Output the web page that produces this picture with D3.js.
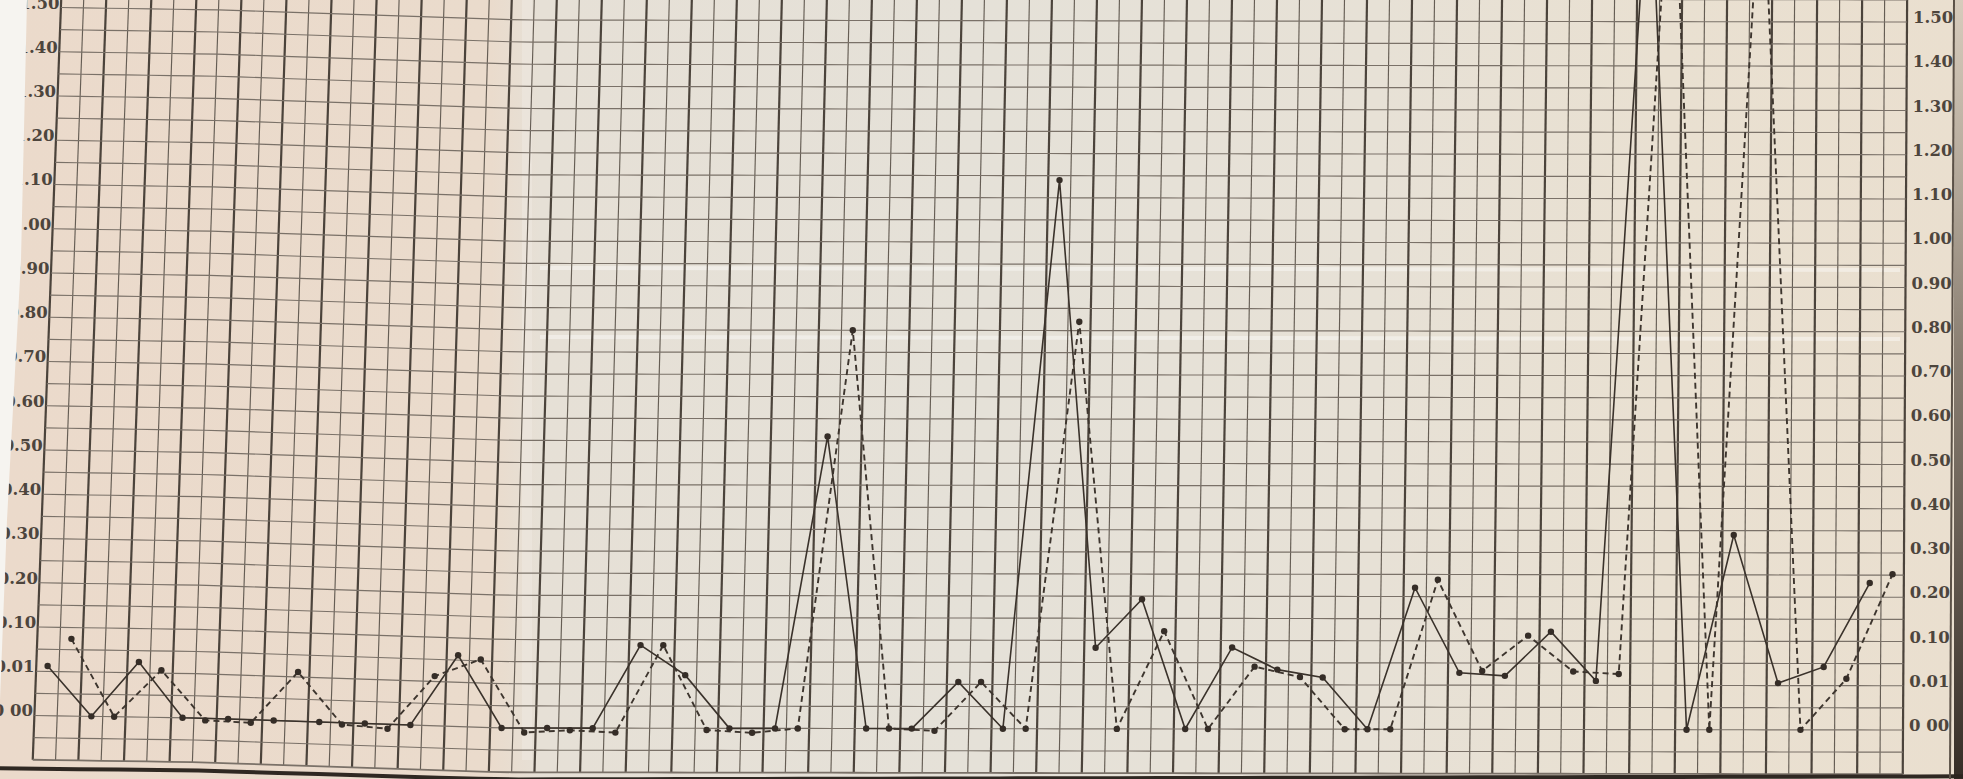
<!DOCTYPE html>
<html>
<head>
<meta charset="utf-8">
<script src="https://cdn.jsdelivr.net/npm/d3@7"></script>
<style>
  body { margin: 0; background: #e6ddcf; overflow: hidden; }
  svg { display: block; }
</style>
</head>
<body>
<div id="sheet"></div>
<script>
// one reading per day, 41 days, two series (solid and dashed line)
var days = d3.range(1, 42);

var solidValues = [0.021, 0, 0.032, 0, 0, 0, 0, 0, 0, 0.065,
                   0, 0, 0, 0.089, 0.028, 0, 0, 0.56, 0, 0,
                   0.015, 0, 1.14, 0.085, 0.193, 0, 0.086, 0.041, 0.025, 0,
                   0.22, 0.035, 0.029, 0.121, 0.019, 1.89, 0, 0.34, 0.015, 0.048,
                   0.232];

var dashedValues = [0.077, 0, 0.016, -0.0005, -0.0007, 0.02, -0.0004, -0.001, 0.021, 0.058,
                    -0.001, -0.0005, -0.001, 0.089, -0.0004, -0.001, 0, 0.80, 0, -0.0005,
                    0.015, 0, 0.82, 0, 0.121, 0, 0.047, 0.026, 0, 0,
                    0.238, 0.039, 0.112, 0.038, 0.033, 1.95, 0, 1.88, 0, 0.024,
                    0.252];

// the sheet's scale is not linear: every printed label gets the same height
var tickValues = [0, 0.01, 0.10, 0.20, 0.30, 0.40, 0.50, 0.60, 0.70, 0.80,
                  0.90, 1.00, 1.10, 1.20, 1.30, 1.40, 1.50];
var tickLabels = ["0 00", "0.01", "0.10", "0.20", "0.30", "0.40", "0.50", "0.60", "0.70", "0.80",
                  "0.90", "1.00", "1.10", "1.20", "1.30", "1.40", "1.50"];

var w = 1963;
var h = 779;
var gridLeft = 34.4;
var gridRight = 1903;
var zeroY = 722;
var labelStep = 44.25;

var x = d3.scaleBand().domain(days).range([gridLeft, gridRight]).padding(0);
var bw = x.bandwidth();
// label index -> pixel
var row = d3.scaleLinear().domain([0, 1]).range([zeroY, zeroY - labelStep]);
// value -> pixel, piecewise through the printed labels
var y = d3.scaleLinear()
  .domain(tickValues)
  .range(tickValues.map(function(d, i) { return row(i); }));

// the scanned paper is a bit sheared: verticals lean, rows sag to the right
var drift = d3.scaleLinear().domain([0, 200, 500, 1900]).range([-7, -4, 6, 8]);
function lean(u) { return 0.038 - 0.000017 * u; }
function warp(u, v) {
  return [u + lean(u) * (zeroY - v), v + drift(u)];
}

var svg = d3.select("#sheet").append("svg")
  .attr("width", w)
  .attr("height", h);

// paper
var defs = svg.append("defs");
var paper = defs.append("linearGradient").attr("id", "paper")
  .attr("x1", "0").attr("x2", "1").attr("y1", "0").attr("y2", "0");
[[0, "#ebdacb"], [0.25, "#eadbcc"], [0.275, "#e6e0d6"], [0.5, "#e5e1d8"],
 [0.7, "#e7e1d6"], [0.85, "#e9e0d1"], [1, "#eadfcf"]].forEach(function(s) {
  paper.append("stop").attr("offset", s[0]).attr("stop-color", s[1]);
});
var edge = defs.append("linearGradient").attr("id", "edge")
  .attr("x1", "0").attr("x2", "0").attr("y1", "0").attr("y2", "1");
edge.append("stop").attr("offset", 0).attr("stop-color", "#6b5f52").attr("stop-opacity", 0.15);
edge.append("stop").attr("offset", 0.45).attr("stop-color", "#4a3f35").attr("stop-opacity", 0.6);
edge.append("stop").attr("offset", 1).attr("stop-color", "#2c241e").attr("stop-opacity", 0.95);

svg.append("rect").attr("width", w).attr("height", h).attr("fill", "url(#paper)");

// fold marks on the sheet
svg.append("g").selectAll("line").data([268, 337]).enter().append("line")
  .attr("x1", 540).attr("x2", 1900)
  .attr("y1", function(d) { return d; }).attr("y2", function(d) { return d + 2; })
  .attr("stroke", "#ffffff").attr("stroke-opacity", 0.4).attr("stroke-width", 4);
svg.append("rect").attr("x", 522).attr("y", 0).attr("width", 10).attr("height", 760)
  .attr("fill", "#ffffff").attr("opacity", 0.18);

var bottomV = row(-1);
var topV = row(17);

// vertical rules: every day is two cells, thick rule on the day boundary
var cols = [];
days.forEach(function(d) {
  cols.push({ u: x(d), thick: true });
  cols.push({ u: x(d) + bw / 2, thick: false });
});
cols.push({ u: gridRight, thick: true });

svg.append("g").selectAll("line").data(cols).enter().append("line")
  .attr("x1", function(d) { return warp(d.u, topV)[0]; })
  .attr("y1", function(d) { return warp(d.u, topV)[1]; })
  .attr("x2", function(d) { return warp(d.u, bottomV)[0]; })
  .attr("y2", function(d) { return warp(d.u, bottomV)[1]; })
  .attr("stroke", function(d) { return d.thick ? "#4b433b" : "#655d54"; })
  .attr("stroke-width", function(d) { return d.thick ? 2.2 : 1.15; });

// horizontal rules: two per printed label
var rows = d3.range(-2, 35).map(function(k) { return k / 2; });
var colU = cols.map(function(c) { return c.u; });
var rule = d3.line()
  .x(function(p) { return p[0]; })
  .y(function(p) { return p[1]; });

svg.append("g").selectAll("path").data(rows).enter().append("path")
  .attr("d", function(k) {
    return rule(colU.map(function(u) { return warp(u, row(k)); }));
  })
  .attr("fill", "none")
  .attr("stroke", "#7a7168")
  .attr("stroke-width", function(k) { return k === -1 ? 1.8 : 1.15; });

// heavy rule under the sheet
var heavyOff = d3.scaleLinear().domain([0, w]).range([9, 2]);
var heavyU = d3.range(-40, w + 40, 40);
svg.append("path")
  .attr("d", rule(heavyU.map(function(u) {
    var p = warp(u, bottomV);
    return [p[0], p[1] + heavyOff(u)];
  })))
  .attr("fill", "none").attr("stroke", "#2f2822").attr("stroke-width", 4);

// printed labels on both sides
var labelFont = "'DejaVu Serif', 'Liberation Serif', serif";
svg.append("g").selectAll("text").data(tickLabels).enter().append("text")
  .attr("x", function(d, i) { return warp(1909, row(i))[0]; })
  .attr("y", function(d, i) { return warp(1909, row(i))[1] + 1; })
  .attr("text-anchor", "start")
  .attr("font-family", labelFont)
  .attr("font-weight", "bold")
  .attr("font-size", 16.5)
  .attr("fill", "#4d453d")
  .text(function(d) { return d; });

// left copy sits against the torn edge, so only its tail shows
svg.append("g").selectAll("text").data(tickLabels).enter().append("text")
  .attr("x", function(d, i) { return warp(gridLeft - 1.5, row(i))[0]; })
  .attr("y", function(d, i) { return warp(gridLeft - 1.5, row(i))[1] + 1; })
  .attr("text-anchor", "end")
  .attr("font-family", labelFont)
  .attr("font-weight", "bold")
  .attr("font-size", 16.5)
  .attr("fill", "#4d453d")
  .text(function(d) { return d; });

// torn left edge of the scan
svg.append("polygon")
  .attr("points", "0,0 27,0 21,260 7,520 0,700")
  .attr("fill", "#f6f4f0");

// right border of the sheet
svg.append("line")
  .attr("x1", 1954).attr("x2", 1950).attr("y1", 0).attr("y2", h)
  .attr("stroke", "#5b5147").attr("stroke-width", 2);
svg.append("rect").attr("x", 1954).attr("y", 0).attr("width", 9).attr("height", h)
  .attr("fill", "url(#edge)");

// the two series
function points(values, offset) {
  return values.map(function(v, i) {
    return warp(x(days[i]) + bw * offset, y(v));
  });
}
var solidPts = points(solidValues, 0.25);
var dashedPts = points(dashedValues, 0.75);

svg.append("path")
  .attr("d", rule(dashedPts))
  .attr("fill", "none")
  .attr("stroke", "#3d352e")
  .attr("stroke-width", 1.9)
  .attr("stroke-dasharray", "6,4");

svg.append("path")
  .attr("d", rule(solidPts))
  .attr("fill", "none")
  .attr("stroke", "#3a322b")
  .attr("stroke-width", 1.6);

svg.append("g").selectAll("circle").data(solidPts.concat(dashedPts)).enter().append("circle")
  .attr("cx", function(p) { return p[0]; })
  .attr("cy", function(p) { return p[1]; })
  .attr("r", 3.2)
  .attr("fill", "#352d27");
</script>
</body>
</html>
